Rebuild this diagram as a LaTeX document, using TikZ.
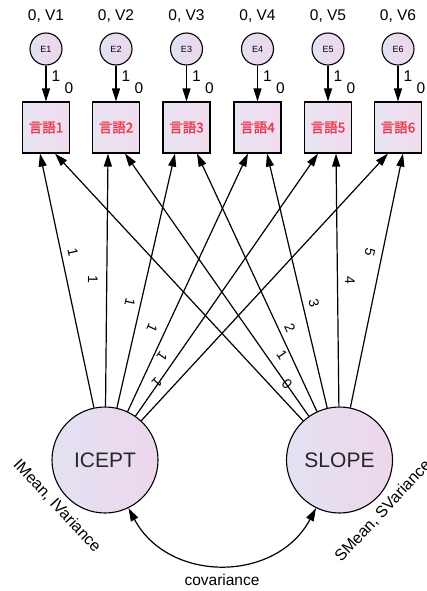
\documentclass[tikz,border=0pt]{standalone}
\usepackage{fontspec}
\setmainfont{Liberation Sans}
\newfontfamily\cjk{Noto Sans CJK JP}[FakeBold=1.8]
\usetikzlibrary{arrows.meta}
\definecolor{lavL}{RGB}{226,226,242}
\definecolor{lavR}{RGB}{238,214,236}
\definecolor{boxL}{RGB}{232,228,242}
\definecolor{boxR}{RGB}{240,220,238}
\definecolor{redtxt}{RGB}{236,56,78}
\tikzset{
  errc/.style={circle,draw,line width=1.1pt,minimum size=32pt,inner sep=0pt,left color=lavL,right color=lavR,font=\fontsize{9}{10}\selectfont},
  obsbox/.style={rectangle,draw,line width=1.1pt,minimum width=47pt,minimum height=51pt,inner sep=0pt,left color=boxL,right color=boxR,font=\cjk\fontsize{13.5}{15}\selectfont,text=redtxt},
  latc/.style={circle,draw,line width=1.1pt,minimum size=106pt,inner sep=0pt,left color=lavL,right color=lavR,font=\fontsize{21}{24}\selectfont,text=black!85},
  arr/.style={line width=1.2pt,-{Triangle[length=13pt,width=8pt]}},
  arrb/.style={line width=1.2pt,{Triangle[length=13pt,width=8pt]}-{Triangle[length=13pt,width=8pt]}},
  lbl/.style={font=\fontsize{15.5}{17}\selectfont,inner sep=0pt},
  rlbl/.style={font=\fontsize{16}{18}\selectfont,inner sep=0pt},
  plbl/.style={font=\fontsize{14}{16}\selectfont,inner sep=0pt}
}
\begin{document}
\begin{tikzpicture}[x=1pt,y=-1pt]
\useasboundingbox[fill=white] (0,0) rectangle (427,591);
% columns
\foreach \i/\x in {1/46,2/116,3/186.5,4/257.5,5/328,6/398}{
  \node[errc] (e\i) at (\x,49) {E\i};
  \node[obsbox] (b\i) at (\x,127.5) {言語\i};
  \node[lbl] (v\i) at (\x,16) {0, V\i};
  \draw[arr] (e\i) -- (b\i);
  \node[lbl] (o\i) at (\x+10,76) {1};
  \node[lbl] (z\i) at (\x+23,88) {0};
}
% latent variables
\node[latc] (ic) at (105,460) {ICEPT};
\node[latc] (sl) at (339.5,460) {SLOPE};
% paths from ICEPT
\foreach \i/\d in {1/-6,2/-8,3/-11.5,4/-9.5,5/-10,6/-10}{
  \draw[arr] (ic) -- ([xshift=\d pt]b\i.south);
}
% paths from SLOPE
\foreach \i/\d in {1/9,2/9,3/10.5,4/9.5,5/8,6/5}{
  \draw[arr] (sl) -- ([xshift=\d pt]b\i.south);
}
% path labels ICEPT
\foreach \px/\py/\r in {73/252/-78,93/279/-90.6,130/302/-102.8,152/328/-115,162/356/-124.8,157/383/-132.7}{
  \node[plbl,rotate=\r] at (\px,\py) {1};
}
% path labels SLOPE
\foreach \t/\px/\py/\r in {0/287/384/-47.2,1/282/355/-55.1,2/290/328/-65.1,3/314/303/-76.7,4/350/280/-89.3,5/370/252/-101.7}{
  \node[plbl,rotate=\r] at (\px,\py) {\t};
}
% covariance
\draw[arrb] (ic.-64) .. controls +(40,75) and +(-40,75) .. (sl.-116);
\node[lbl] (cov) at (222,580) {covariance};
\node[rlbl,rotate=-47] (im) at (57,506) {IMean, IVariance};
\node[rlbl,rotate=47] (sm) at (383,511) {SMean, SVariance};
\end{tikzpicture}
\end{document}
